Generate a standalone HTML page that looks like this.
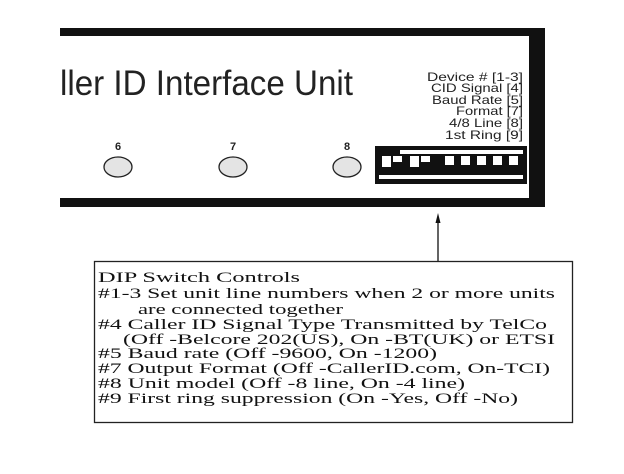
<!DOCTYPE html>
<html><head><style>body{margin:0;background:#fff}svg{display:block}</style></head>
<body>
<svg width="624" height="474" viewBox="0 0 624 474" xmlns="http://www.w3.org/2000/svg">
<rect x="0" y="0" width="624" height="474" fill="#fff"/>
<rect x="60" y="28" width="485" height="8" fill="#111"/>
<rect x="60" y="198" width="485" height="9" fill="#111"/>
<rect x="529" y="28" width="16" height="179" fill="#111"/>
<text x="60" y="95" font-family="Liberation Sans, sans-serif" font-size="35" fill="#222" textLength="293" lengthAdjust="spacingAndGlyphs">ller ID Interface Unit</text>
<g font-family="Liberation Sans, sans-serif" font-size="12" fill="#222" text-anchor="end">
<text x="523" y="81" textLength="96" lengthAdjust="spacingAndGlyphs">Device # [1-3]</text>
<text x="523" y="92" textLength="92" lengthAdjust="spacingAndGlyphs">CID Signal [4]</text>
<text x="523" y="104" textLength="91" lengthAdjust="spacingAndGlyphs">Baud Rate [5]</text>
<text x="523" y="115" textLength="67" lengthAdjust="spacingAndGlyphs">Format [7]</text>
<text x="523" y="127" textLength="74" lengthAdjust="spacingAndGlyphs">4/8 Line [8]</text>
<text x="523" y="139" textLength="78" lengthAdjust="spacingAndGlyphs">1st Ring [9]</text>
</g>
<g font-family="Liberation Sans, sans-serif" font-size="11" font-weight="bold" fill="#222" text-anchor="middle">
<text x="118" y="150">6</text><text x="233" y="150">7</text><text x="347" y="150">8</text>
</g>
<g fill="#e4e4e4" stroke="#222" stroke-width="1.3">
<ellipse cx="118" cy="167" rx="14" ry="10"/>
<ellipse cx="233" cy="167" rx="14" ry="10"/>
<ellipse cx="347" cy="167" rx="14" ry="10"/>
</g>
<rect x="375" y="146" width="152" height="38" fill="#111"/>
<rect x="400" y="150" width="123" height="4" fill="#fff"/>
<rect x="379" y="175" width="144" height="4" fill="#fff"/>
<g fill="#fff">
<rect x="382" y="156" width="9" height="11"/>
<rect x="393" y="156" width="9" height="6"/>
<rect x="410" y="156" width="9" height="11"/>
<rect x="421" y="156" width="9" height="6"/>
<rect x="445" y="156" width="9" height="9"/>
<rect x="461" y="156" width="9" height="9"/>
<rect x="477" y="156" width="9" height="9"/>
<rect x="493" y="156" width="9" height="9"/>
<rect x="509" y="156" width="9" height="9"/>
</g>
<line x1="438" y1="220" x2="438" y2="261" stroke="#111" stroke-width="1.3"/>
<polygon points="438,213 435.5,223 440.5,223" fill="#111"/>
<rect x="94.5" y="261.5" width="478" height="161" fill="#fff" stroke="#222" stroke-width="1.3"/>
<g font-family="Liberation Serif, serif" font-size="14.5" fill="#111">
<text x="98" y="282" textLength="202" lengthAdjust="spacingAndGlyphs">DIP Switch Controls</text>
<text x="98" y="298" textLength="457" lengthAdjust="spacingAndGlyphs">#1-3 Set unit line numbers when 2 or more units</text>
<text x="138" y="314" textLength="205" lengthAdjust="spacingAndGlyphs">are connected together</text>
<text x="98" y="329" textLength="449" lengthAdjust="spacingAndGlyphs">#4 Caller ID Signal Type Transmitted by TelCo</text>
<text x="123" y="344" textLength="432" lengthAdjust="spacingAndGlyphs">(Off -Belcore 202(US), On -BT(UK) or ETSI</text>
<text x="98" y="358" textLength="339" lengthAdjust="spacingAndGlyphs">#5 Baud rate (Off -9600, On -1200)</text>
<text x="98" y="373" textLength="452" lengthAdjust="spacingAndGlyphs">#7 Output Format (Off -CallerID.com, On-TCI)</text>
<text x="98" y="388" textLength="367" lengthAdjust="spacingAndGlyphs">#8 Unit model (Off -8 line, On -4 line)</text>
<text x="98" y="403" textLength="420" lengthAdjust="spacingAndGlyphs">#9 First ring suppression (On -Yes, Off -No)</text>
</g>
</svg>
</body></html>
